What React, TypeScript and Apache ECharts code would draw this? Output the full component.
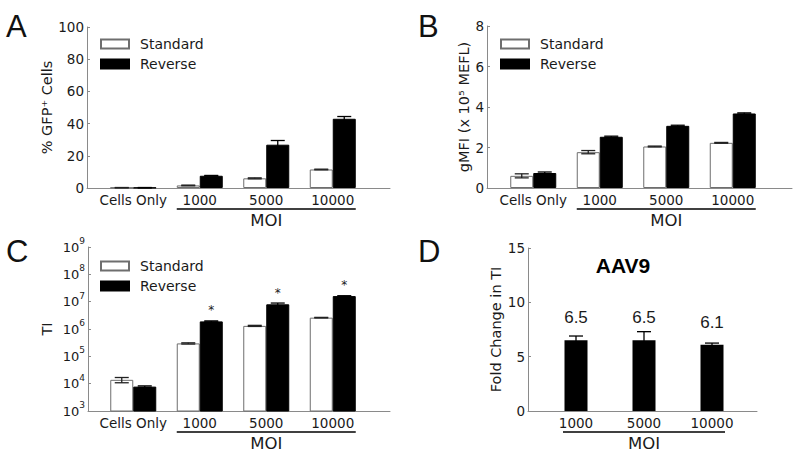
import React, { useEffect, useRef } from "react";
import * as echarts from "echarts";

// ---------- data ----------
const treatments = ["Standard", "Reverse"];
const moiCategories = ["Cells Only", "1000", "5000", "10000"];

const gfpStandard = [0.2, 1.6, 6.0, 11.5];
const gfpStandardErr = [0.1, 0.2, 0.3, 0.2];
const gfpReverse = [0.2, 7.6, 26.9, 43.0];
const gfpReverseErr = [0.1, 0.2, 2.6, 1.4];
const gfpTicks = [0, 20, 40, 60, 80, 100];

const mfiStandard = [0.6, 1.77, 2.05, 2.23];
const mfiStandardErr = [0.1, 0.08, 0.02, 0.02];
const mfiReverse = [0.74, 2.53, 3.07, 3.68];
const mfiReverseErr = [0.05, 0.03, 0.03, 0.03];
const mfiTicks = [0, 2, 4, 6, 8];

const tiStandard = [13800, 297000, 1300000, 2600000];
const tiStandardErr = [3000, 15000, 60000, 60000];
const tiReverse = [7800, 1900000, 8000000, 16000000];
const tiReverseErr = [500, 80000, 900000, 500000];
const tiSignificance = ["", "*", "*", "*"];
const tiTicks = [1e3, 1e4, 1e5, 1e6, 1e7, 1e8, 1e9];

const foldCategories = ["1000", "5000", "10000"];
const foldChange = [6.5, 6.5, 6.1];
const foldChangeErr = [0.4, 0.8, 0.15];
const foldLabels = ["6.5", "6.5", "6.1"];
const foldTicks = [0, 5, 10, 15];

const moiLabel = "MOI";

// ---------- styling ----------
const FONT = "DejaVu Sans";
const TXT = "#1a1a1a";
const AXIS = "#8a8a8a";
const BAR_W = 23;

type Panel = {
  letter: string;
  frame: { left: number; top: number; width: number; height: number };
  bars: { left: number; width: number };
  yName: string;
  nameGap: number;
  log?: boolean;
  ticks: number[];
  legendTop?: number;
};

const panels: Panel[] = [
  { letter: "A", frame: { left: 87, top: 27, width: 303, height: 161 }, bars: { left: 100, width: 266 }, yName: "% GFP\u207A Cells", nameGap: 30, ticks: gfpTicks, legendTop: 32 },
  { letter: "B", frame: { left: 487, top: 26, width: 305, height: 162 }, bars: { left: 500, width: 266 }, yName: "gMFI (x 10\u2075 MEFL)", nameGap: 14, ticks: mfiTicks, legendTop: 32 },
  { letter: "C", frame: { left: 88, top: 247, width: 302, height: 164 }, bars: { left: 100, width: 266 }, yName: "TI", nameGap: 34, log: true, ticks: tiTicks, legendTop: 254 },
  { letter: "D", frame: { left: 528, top: 248, width: 229, height: 163 }, bars: { left: 542, width: 204 }, yName: "Fold Change in TI", nameGap: 24, ticks: foldTicks },
];

function errorSeries(xi: number, yi: number, means: number[], errs: number[], offset: number, color: string) {
  return {
    type: "custom",
    xAxisIndex: xi,
    yAxisIndex: yi,
    silent: true,
    z: 5,
    encode: { x: 0, y: 1 },
    data: means.map((m, i) => [i, m, errs[i]]),
    renderItem: (params: any, api: any) => {
      const idx = api.value(0);
      const m = api.value(1);
      const e = api.value(2);
      const top = api.coord([idx, m + e]);
      const bot = api.coord([idx, m - e]);
      const x = top[0] + offset;
      const cap = 7;
      const st = { stroke: color, lineWidth: 1.3 };
      return {
        type: "group",
        children: [
          { type: "line", shape: { x1: x, y1: top[1], x2: x, y2: bot[1] }, style: st },
          { type: "line", shape: { x1: x - cap, y1: top[1], x2: x + cap, y2: top[1] }, style: st },
          { type: "line", shape: { x1: x - cap, y1: bot[1], x2: x + cap, y2: bot[1] }, style: st },
        ],
      };
    },
  };
}

function bracketSeries(xi: number, yi: number, firstIdx: number, lastIdx: number, yBase: number, ext: number) {
  return {
    type: "custom",
    xAxisIndex: xi,
    yAxisIndex: yi,
    silent: true,
    clip: false,
    encode: { x: [0, 1], y: 2 },
    data: [[firstIdx, lastIdx, yBase]],
    renderItem: (params: any, api: any) => {
      const a = api.coord([api.value(0), api.value(2)]);
      const b = api.coord([api.value(1), api.value(2)]);
      const y = a[1] + 21;
      return {
        type: "group",
        children: [
          { type: "line", shape: { x1: a[0] - ext, y1: y, x2: b[0] + ext, y2: y }, style: { stroke: "#000", lineWidth: 1.6 } },
          {
            type: "text",
            style: { text: moiLabel, x: (a[0] + b[0]) / 2, y: y + 11, align: "center", verticalAlign: "middle", fontSize: 16.5, fontFamily: FONT, fill: TXT },
          },
        ],
      };
    },
  };
}

function buildOption() {
  const grid: any[] = [];
  const xAxis: any[] = [];
  const yAxis: any[] = [];
  const series: any[] = [];
  const legend: any[] = [];
  const graphic: any[] = [];

  panels.forEach((p, k) => {
    const fi = 2 * k;
    const bi = 2 * k + 1;
    const min = p.ticks[0];
    const max = p.ticks[p.ticks.length - 1];
    const interval = p.log ? undefined : p.ticks[1] - p.ticks[0];
    grid.push({ left: p.frame.left, top: p.frame.top, width: p.frame.width, height: p.frame.height, outerBoundsMode: "none" });
    grid.push({ left: p.bars.left, top: p.frame.top, width: p.bars.width, height: p.frame.height, outerBoundsMode: "none" });

    xAxis.push({
      gridIndex: fi, type: "value", min: 0, max: 1,
      axisLine: { show: true, lineStyle: { color: AXIS, width: 1 } },
      axisTick: { show: false }, axisLabel: { show: false }, splitLine: { show: false },
    });
    const cats = k === 3 ? foldCategories : moiCategories;
    xAxis.push({
      gridIndex: bi, type: "category", data: cats,
      axisLine: { show: false }, axisTick: { show: false }, splitLine: { show: false },
      axisLabel: { margin: 5, fontSize: 13.5, fontFamily: FONT, color: TXT, interval: 0 },
    });

    const yCommon: any = p.log
      ? { type: "log", logBase: 10, min, max }
      : { type: "value", min, max, interval };
    yAxis.push({
      gridIndex: fi, ...yCommon,
      name: p.yName, nameLocation: "middle", nameRotate: 90, nameGap: p.nameGap,
      nameTextStyle: { fontSize: 14.5, fontFamily: FONT, color: TXT },
      axisLine: { show: true, lineStyle: { color: AXIS, width: 1 } },
      axisTick: { show: true, inside: true, length: 3, lineStyle: { color: AXIS } },
      splitLine: { show: false },
      axisLabel: p.log
        ? {
            margin: 3,
            formatter: (v: number) => `{b|10}{s|${Math.round(Math.log10(v))}}`,
            rich: {
              b: { fontSize: 13, fontFamily: FONT, color: TXT },
              s: { fontSize: 9, fontFamily: FONT, color: TXT, padding: [0, 0, 12, 0] },
            },
          }
        : { margin: 3, fontSize: 13.5, fontFamily: FONT, color: TXT },
    });
    yAxis.push({ gridIndex: bi, ...yCommon, show: false, splitLine: { show: false } });

    graphic.push({
      type: "text",
      left: k % 2 === 0 ? 6 : 418,
      top: k < 2 ? 11 : 236,
      style: { text: p.letter, fontSize: 31, fontFamily: "Liberation Sans", fill: "#111" },
    });

    if (k < 3) {
      const std = [gfpStandard, mfiStandard, tiStandard][k];
      const stdE = [gfpStandardErr, mfiStandardErr, tiStandardErr][k];
      const rev = [gfpReverse, mfiReverse, tiReverse][k];
      const revE = [gfpReverseErr, mfiReverseErr, tiReverseErr][k];
      series.push({
        type: "bar", name: treatments[0], xAxisIndex: bi, yAxisIndex: bi, data: std,
        barWidth: BAR_W, barGap: "0%", clip: true,
        itemStyle: { color: "#ffffff", borderColor: "#6e6e6e", borderWidth: 1 },
      });
      series.push({
        type: "bar", name: treatments[1], xAxisIndex: bi, yAxisIndex: bi, data: rev,
        barWidth: BAR_W, barGap: "0%", clip: true,
        itemStyle: { color: "#000000", borderColor: "#000000", borderWidth: 1 },
        label: k === 2
          ? { show: true, position: "top", distance: 5, formatter: (pp: any) => tiSignificance[pp.dataIndex], fontSize: 12, fontFamily: FONT, color: TXT }
          : { show: false },
      });
      series.push(errorSeries(bi, bi, std, stdE, -BAR_W / 2, "#222"));
      series.push(errorSeries(bi, bi, rev, revE, BAR_W / 2, "#000"));
      series.push(bracketSeries(bi, bi, 1, 3, min, BAR_W));
      legend.push({
        data: treatments, orient: "vertical", left: p.bars.left - 5, top: p.legendTop,
        itemWidth: 28, itemHeight: 9, itemGap: 6, icon: "rect",
        textStyle: { fontSize: 14, fontFamily: FONT, color: TXT, padding: [0, 0, 0, 6] },
        selectedMode: false,
      });
    } else {
      series.push({
        type: "bar", name: "Fold Change", xAxisIndex: bi, yAxisIndex: bi, data: foldChange,
        barWidth: BAR_W,
        itemStyle: { color: "#000000" },
        label: {
          show: true, position: "top", distance: 14,
          formatter: (pp: any) => foldLabels[pp.dataIndex],
          fontSize: 17, fontFamily: "Liberation Sans", color: TXT,
        },
      });
      series.push(errorSeries(bi, bi, foldChange, foldChangeErr, 0, "#000"));
      series.push(bracketSeries(bi, bi, 0, 2, min, BAR_W / 2 + 1.5));
      graphic.push({
        type: "text",
        x: 623, y: 265,
        style: { text: "AAV9", fontSize: 21, fontWeight: "bold", fontFamily: "Liberation Sans", fill: "#000", align: "center", verticalAlign: "middle" },
      });
    }
  });

  return { animation: false, backgroundColor: "#fff", grid, xAxis, yAxis, series, legend, graphic };
}

export default function App() {
  const ref = useRef<HTMLDivElement>(null);
  useEffect(() => {
    if (!ref.current) return;
    const chart = echarts.init(ref.current, undefined, { renderer: "svg" });
    chart.setOption(buildOption() as any);
    return () => chart.dispose();
  }, []);
  return <div ref={ref} style={{ width: 800, height: 452, position: "absolute", left: 0, top: 0 }} />;
}
